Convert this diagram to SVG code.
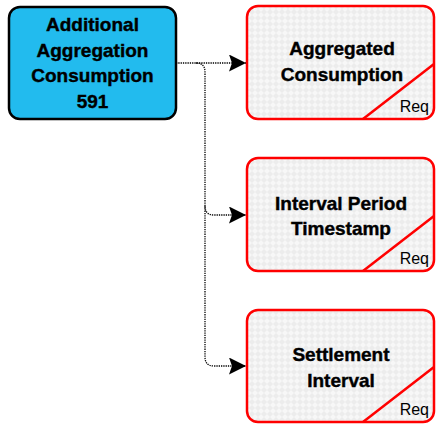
<svg xmlns="http://www.w3.org/2000/svg" width="436" height="424" viewBox="0 0 436 424">
<style>
.t{font-family:"Liberation Sans",Arial,sans-serif;font-weight:bold;font-size:19px;fill:#000;stroke:#000;stroke-width:0.4;text-anchor:middle}
.req{font-family:"Liberation Sans",Arial,sans-serif;font-size:16px;fill:#000;text-anchor:end}
.tb{fill:url(#hatch);stroke:#ff0000;stroke-width:2.5}
.diag{stroke:#ff0000;stroke-width:2.5;fill:none}
.conn{fill:none;stroke:#000;stroke-width:1.3;stroke-dasharray:1.3 1}
</style>
<defs>
<pattern id="hatch" width="6" height="6" patternUnits="userSpaceOnUse">
<rect width="6" height="6" fill="#ececec"/>
<path d="M0 3L3 0L6 3L3 6Z" fill="#f7f7f7"/>
</pattern>
<marker id="arr" markerWidth="18" markerHeight="18" refX="17" refY="8.5" orient="auto" markerUnits="userSpaceOnUse">
<path d="M0 0L17 8.5L0 17L3 8.5Z" fill="#000"/>
</marker>
</defs>
<g id="connectors">
<path class="conn" d="M176 63H246" marker-end="url(#arr)"/>
<path class="conn" d="M196 63Q205 63 205 72V206Q205 215 214 215H246" marker-end="url(#arr)"/>
<path class="conn" d="M205 206V357Q205 366 214 366H246" marker-end="url(#arr)"/>
</g>
<g id="source">
<rect x="9" y="7" width="167" height="112" rx="11" fill="#22bbee" stroke="#000" stroke-width="2.5"/>
<text class="t" x="92.5" y="31">Additional</text>
<text class="t" x="92.5" y="56.5">Aggregation</text>
<text class="t" x="92.5" y="82">Consumption</text>
<text class="t" x="92.5" y="107.5">591</text>
</g>
<g id="aggregated-consumption">
<rect class="tb" x="247" y="6" width="187" height="113" rx="11"/>
<path class="diag" d="M363 119L434 64"/>
<text class="t" x="342" y="55">Aggregated</text>
<text class="t" x="342" y="81">Consumption</text>
<text class="req" x="429" y="112">Req</text>
</g>
<g id="interval-period-timestamp">
<rect class="tb" x="247" y="158" width="187" height="113" rx="11"/>
<path class="diag" d="M363 271L434 216"/>
<text class="t" x="341" y="210">Interval Period</text>
<text class="t" x="341" y="235">Timestamp</text>
<text class="req" x="429" y="264">Req</text>
</g>
<g id="settlement-interval">
<rect class="tb" x="247" y="310" width="187" height="112" rx="11"/>
<path class="diag" d="M363 422L434 367"/>
<text class="t" x="341" y="361">Settlement</text>
<text class="t" x="341" y="387">Interval</text>
<text class="req" x="429" y="415">Req</text>
</g>
</svg>
